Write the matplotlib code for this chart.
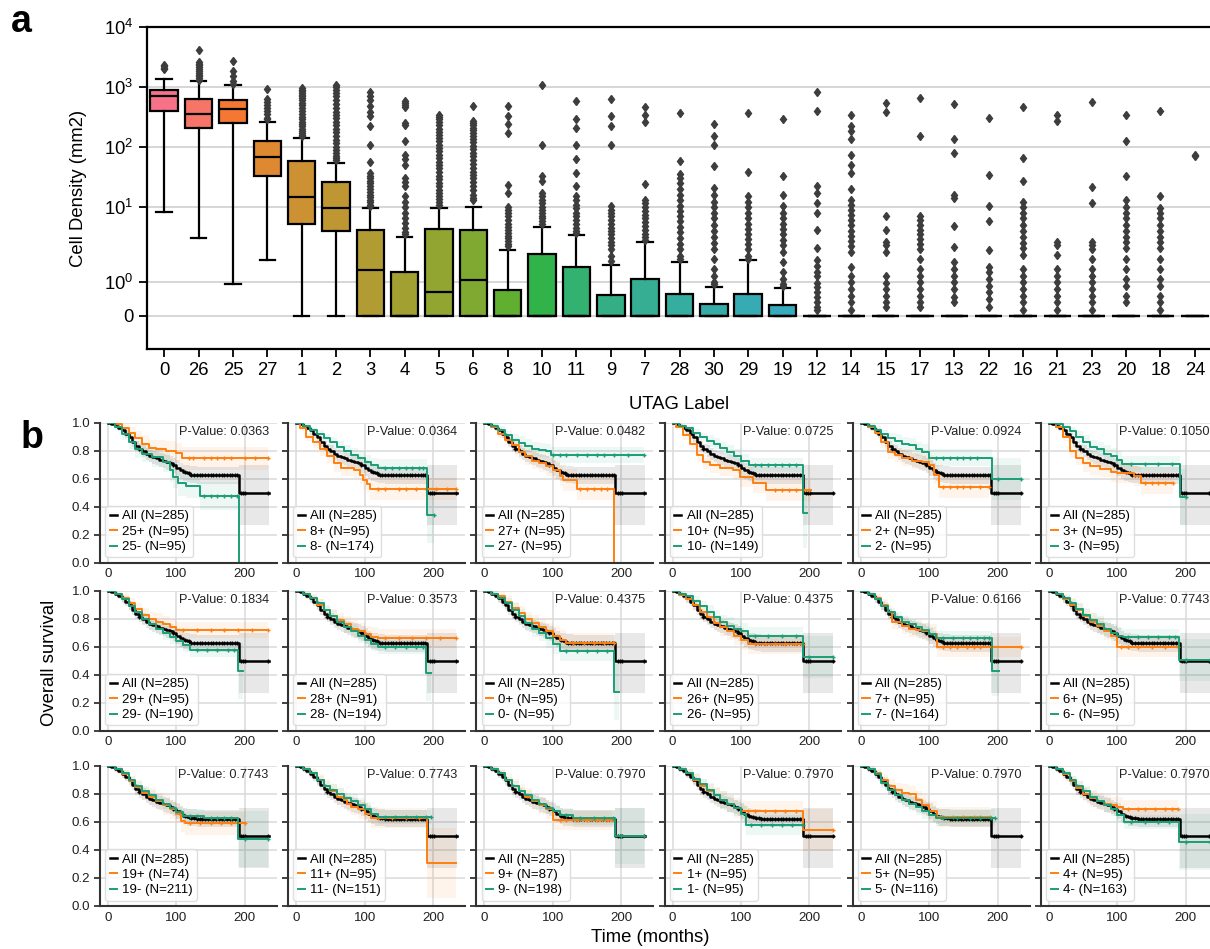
import numpy as np
import matplotlib
matplotlib.use("Agg")
import matplotlib.pyplot as plt
import seaborn as sns

plt.rcParams['font.family'] = ['Liberation Sans', 'DejaVu Sans']
plt.rcParams['mathtext.fontset'] = 'custom'
plt.rcParams['mathtext.rm'] = 'Liberation Sans'
plt.rcParams['mathtext.it'] = 'Liberation Sans:italic'

# ---------------- Panel a data ----------------
UTAG_ORDER = ['0', '26', '25', '27', '1', '2', '3', '4', '5', '6', '8', '10', '11', '9', '7',
              '28', '30', '29', '19', '12', '14', '15', '17', '13', '22', '16', '21', '23',
              '20', '18', '24']
BOX_Q1 = [405, 208, 252, 32.5, 5.15, 4.0, 0, 0, 0, 0, 0, 0, 0, 0, 0, 0, 0, 0, 0,
          0, 0, 0, 0, 0, 0, 0, 0, 0, 0, 0, 0]
BOX_MED = [720, 360, 432, 67, 14.7, 9.8, 1.38, 0, 0.71, 1.07, 0, 0, 0, 0, 0, 0, 0, 0, 0,
           0, 0, 0, 0, 0, 0, 0, 0, 0, 0, 0, 0]
BOX_Q3 = [906, 634, 600, 128, 59, 26.5, 4.1, 1.3, 4.3, 4.2, 0.78, 1.85, 1.45, 0.62, 1.10,
          0.66, 0.36, 0.66, 0.33, 0, 0, 0, 0, 0, 0, 0, 0, 0, 0, 0, 0]
WHISK_LO = [8.4, 3.1, 0.95, 1.67, 0, 0, 0, 0, 0, 0, 0, 0, 0, 0, 0, 0, 0, 0, 0,
            0, 0, 0, 0, 0, 0, 0, 0, 0, 0, 0, 0]
WHISK_HI = [1380, 1245, 1084, 262, 142, 54, 9.5, 3.2, 9.66, 10.2, 1.96, 4.59, 3.42, 1.52, 2.65,
            1.61, 0.86, 1.66, 0.83, 0, 0, 0, 0, 0, 0, 0, 0, 0, 0, 0, 0]
FLIERS = [
    [1960, 2100, 2250, 2350],
    [4200, 2600, 2450, 2300, 2150, 2000, 1850, 1700, 1600, 1500, 1400, 1300],
    [2680, 1830, 1550, 1250, 1140],
    [930, 620, 560, 500, 450, 400, 350, 310, 290],
    [966, 900, 850, 800, 750, 700, 650, 600, 550, 500, 450, 400, 360, 320, 290, 260, 240,
     220, 200, 185, 170, 160, 150],
    [1096, 1000, 900, 800, 700, 600, 520, 450, 390, 340, 300, 260, 230, 200, 175, 150, 130,
     115, 100, 90, 80, 72, 65, 60],
    [816, 700, 616, 476, 378, 333, 227, 110, 56.5, 37, 33, 30, 27, 25, 22, 20, 18, 16,
     14.5, 13, 12, 11, 10.3],
    [578, 540, 500, 460, 255, 232, 124, 75, 62, 51, 30, 26, 22, 15, 12, 10, 8, 6.5, 5.5,
     4.5, 3.8, 3.5],
    [347, 320, 290, 260, 230, 200, 180, 160, 140, 125, 110, 95, 85, 75, 65, 57, 50, 44, 38,
     33, 29, 25, 22, 19, 17, 15, 13.5, 12, 11],
    [490, 269, 250, 230, 210, 190, 170, 150, 135, 120, 105, 92, 80, 70, 60, 52, 45, 39, 34,
     30, 26, 22, 19, 16, 14, 13],
    [476, 330, 245, 172, 23.6, 17.2, 10, 9, 8, 7, 6, 5.3, 4.7, 4.2, 3.7, 3.3, 3.0, 2.7,
     2.4, 2.2],
    [1096, 110, 32.5, 26.9, 17, 15, 13, 11.5, 10, 9, 8, 7.2, 6.5, 5.8, 5.2],
    [578, 297, 208, 110, 63, 37, 22, 15.5, 13, 11, 9.5, 8, 7, 6, 5.2, 4.5, 4.0, 3.7],
    [641, 325, 227, 110, 10.3, 9, 8, 7, 6, 5.2, 4.5, 4.0, 3.5, 3.0, 2.6, 2.3, 2.0, 1.8, 1.65],
    [465, 347, 258, 24.3, 13.3, 11.5, 10, 8.7, 7.5, 6.5, 5.6, 4.8, 4.2, 3.6, 3.2, 2.8],
    [370, 57.8, 36, 30, 25, 20, 16, 13, 10.5, 8.5, 7, 5.8, 4.7, 3.8, 3.0, 2.4, 2.0, 1.8, 1.7],
    [243, 151, 110, 47.7, 20.8, 16.1, 12, 10, 8, 6.5, 5, 4, 3.2, 2.5, 2, 1.7, 1.4, 1.2, 1.0,
     0.95],
    [370, 37.9, 15, 12, 10, 8, 6.5, 5.3, 4.3, 3.5, 2.9, 2.4, 2.0, 1.8, 1.7],
    [297, 33.4, 16, 10.3, 8, 6.5, 5.3, 4.3, 3.5, 2.8, 2.3, 1.9, 1.6, 1.3, 1.1, 0.95, 0.9],
    [816, 394, 22, 17.2, 11.7, 8, 4.2, 2.08, 1.68, 1.5, 1.3, 1.18, 0.99, 0.85, 0.7, 0.55,
     0.4, 0.25, 0.18],
    [347, 222, 184, 135, 75, 51, 37, 20.3, 13.3, 11, 9, 7.5, 6, 5, 4, 3.3, 2.7, 2.2, 1.9,
     1.47, 1.2, 1.0, 0.8, 0.6, 0.4, 0.18],
    [543, 378, 7.0, 4.2, 2.65, 2.3, 1.9, 1.18, 0.99, 0.8, 0.6, 0.4, 0.27],
    [658, 155, 7, 6, 5, 4.2, 3.5, 2.9, 2.4, 2.0, 1.7, 1.4, 1.2, 1.0, 0.8, 0.6, 0.4, 0.27],
    [522, 136, 79.6, 16.1, 14.2, 4.8, 2.13, 1.6, 1.4, 1.2, 1.0, 0.8, 0.55, 0.4],
    [306, 34.7, 10.3, 5.8, 1.98, 1.47, 1.3, 1.1, 0.9, 0.7, 0.5, 0.27],
    [459, 65.8, 26.9, 12, 10, 8, 6.5, 5, 4, 3.2, 2.5, 2.1, 1.83, 1.4, 1.2, 1.0, 0.8, 0.6,
     0.4, 0.18],
    [338, 269, 2.65, 2.3, 1.83, 1.4, 1.2, 1.0, 0.8, 0.6, 0.4, 0.18],
    [562, 21.3, 11.7, 2.65, 2.3, 2.0, 1.7, 1.4, 1.2, 1.0, 0.8, 0.6, 0.4, 0.18],
    [338, 124, 32.5, 13.3, 10, 8, 6.5, 5, 4, 3.2, 2.6, 2.1, 1.7, 1.4, 1.1, 0.9, 0.6, 0.4],
    [405, 15.1, 9.6, 8, 6.5, 5, 4, 3.2, 2.6, 2.1, 1.7, 1.4, 1.1, 0.9, 0.6, 0.4, 0.18],
    [70, 75],
]
Y_TICKS_A = [0, 1, 10, 100, 1000, 10000]
Y_TICKLABELS_A = ['0', r'$10^0$', r'$10^1$', r'$10^2$', r'$10^3$', r'$10^4$']

# ---------------- Panel b data ----------------
PANEL_IDS = ['25', '8', '27', '10', '2', '3', '29', '28', '0', '26', '7', '6',
             '19', '11', '9', '1', '5', '4']
PVALUES = ['0.0363', '0.0364', '0.0482', '0.0725', '0.0924', '0.1050', '0.1834', '0.3573',
           '0.4375', '0.4375', '0.6166', '0.7743', '0.7743', '0.7743', '0.7970', '0.7970',
           '0.7970', '0.7970']
N_ALL = 285
N_POS = [95, 95, 95, 95, 95, 95, 95, 91, 95, 95, 95, 95, 74, 95, 87, 95, 95, 95]
N_NEG = [95, 174, 95, 149, 95, 95, 190, 194, 95, 95, 164, 95, 211, 151, 198, 95, 116, 163]

ALL_T = [0, 5, 10, 15, 20, 25, 30, 35, 40, 45, 50, 55, 60, 65, 70, 75, 80, 85, 90, 95, 100,
         105, 110, 115, 120, 130, 191, 235]
ALL_S = [1.0, 0.99, 0.98, 0.965, 0.945, 0.92, 0.9, 0.865, 0.835, 0.815, 0.80, 0.78, 0.765,
         0.755, 0.745, 0.737, 0.73, 0.72, 0.71, 0.695, 0.68, 0.66, 0.645, 0.638, 0.63, 0.625,
         0.5, 0.5]
ALL_LO = [1.0, 0.98, 0.96, 0.94, 0.915, 0.89, 0.865, 0.83, 0.795, 0.775, 0.755, 0.735, 0.72,
          0.705, 0.695, 0.685, 0.675, 0.665, 0.655, 0.64, 0.62, 0.6, 0.585, 0.575, 0.57, 0.565,
          0.27, 0.27]
ALL_HI = [1.0, 1.0, 0.99, 0.98, 0.965, 0.945, 0.925, 0.895, 0.87, 0.85, 0.84, 0.82, 0.805,
          0.795, 0.79, 0.785, 0.78, 0.77, 0.76, 0.745, 0.735, 0.715, 0.7, 0.695, 0.69, 0.685,
          0.70, 0.70]
ALL_CENS = [45, 95, 112, 118, 122, 126, 130, 134, 138, 142, 146, 150, 154, 158, 162, 166, 170,
            174, 178, 182, 186, 189, 195, 198, 201, 234]

# (time, survival, CI half-width) step points for the "+" (high) group
POS_KM = [
    [(0, 1, 0), (10, .99, .01), (20, .96, .03), (30, .93, .04), (40, .89, .05), (50, .85, .06),
     (60, .82, .06), (70, .81, .07), (85, .80, .07), (100, .785, .07), (108, .745, .08), (234, .745, .08)],
    [(0, 1, 0), (5, .96, .02), (15, .9, .03), (25, .86, .04), (35, .81, .05), (45, .76, .05),
     (55, .71, .06), (65, .68, .06), (85, .665, .06), (93, .63, .07), (98, .59, .07), (103, .565, .07),
     (108, .525, .08), (234, .525, .08)],
    [(0, 1, 0), (10, .97, .02), (20, .92, .03), (30, .88, .04), (40, .84, .05), (50, .79, .05),
     (60, .76, .06), (70, .73, .06), (80, .71, .06), (90, .69, .07), (100, .66, .07), (110, .62, .07),
     (115, .59, .08), (135, .53, .08), (190, 0.0, 0.0)],
    [(0, 1, 0), (5, .97, .02), (15, .91, .03), (25, .85, .04), (35, .77, .05), (45, .72, .05),
     (55, .7, .06), (70, .68, .06), (88, .66, .06), (98, .614, .07), (117, .57, .07), (137, .52, .08),
     (202, .52, .08)],
    [(0, 1, 0), (10, .97, .02), (20, .93, .03), (30, .86, .04), (40, .79, .05), (50, .77, .05),
     (60, .75, .06), (75, .73, .06), (90, .72, .06), (100, .7, .07), (107, .63, .07), (114, .54, .08),
     (187, .54, .08)],
    [(0, 1, 0), (10, .97, .02), (20, .9, .03), (30, .8, .05), (40, .75, .05), (50, .71, .06),
     (60, .69, .06), (75, .67, .06), (90, .65, .07), (100, .638, .07), (124, .62, .07), (134, .571, .08),
     (182, .571, .08)],
    [(0, 1, 0), (10, .98, .02), (20, .95, .03), (30, .91, .04), (40, .87, .04), (50, .83, .05),
     (60, .8, .05), (70, .78, .06), (80, .76, .06), (90, .74, .06), (100, .72, .06), (234, .72, .06)],
    [(0, 1, 0), (10, .98, .02), (20, .95, .03), (30, .9, .04), (40, .86, .04), (50, .82, .05),
     (60, .79, .05), (70, .76, .06), (80, .73, .06), (90, .71, .06), (100, .69, .06), (110, .67, .07),
     (120, .66, .07), (234, .66, .07)],
    [(0, 1, 0), (10, .98, .02), (20, .96, .03), (30, .92, .04), (40, .88, .04), (50, .84, .05),
     (60, .8, .05), (70, .77, .06), (80, .74, .06), (90, .71, .06), (100, .68, .07), (110, .65, .07),
     (120, .63, .07), (190, .63, .07)],
    [(0, 1, 0), (10, .97, .02), (20, .94, .03), (30, .9, .04), (40, .85, .05), (50, .81, .05),
     (60, .77, .06), (70, .74, .06), (80, .71, .06), (90, .68, .07), (100, .65, .07), (110, .62, .07),
     (190, .62, .07)],
    [(0, 1, 0), (10, .98, .02), (20, .95, .03), (30, .9, .04), (40, .85, .05), (45, .78, .05),
     (60, .75, .06), (70, .73, .06), (80, .72, .06), (90, .71, .06), (100, .69, .07), (112, .6, .07),
     (234, .6, .08)],
    [(0, 1, 0), (10, .98, .02), (20, .94, .03), (30, .9, .04), (40, .86, .05), (50, .82, .05),
     (60, .78, .06), (70, .75, .06), (80, .71, .06), (90, .68, .07), (100, .6, .07), (189, .6, .07)],
    [(0, 1, 0), (10, .98, .02), (20, .94, .03), (30, .89, .04), (40, .85, .05), (50, .81, .05),
     (60, .78, .06), (70, .75, .06), (80, .72, .07), (90, .69, .07), (100, .66, .07), (107, .61, .08),
     (112, .59, .08), (201, .59, .08)],
    [(0, 1, 0), (10, .98, .02), (20, .95, .03), (30, .9, .04), (40, .86, .05), (50, .82, .05),
     (60, .78, .06), (70, .76, .06), (75, .73, .06), (80, .71, .06), (90, .69, .07), (100, .66, .07),
     (110, .63, .07), (192, .31, .25), (234, .31, .25)],
    [(0, 1, 0), (10, .98, .02), (20, .95, .03), (30, .9, .04), (40, .86, .05), (50, .82, .05),
     (60, .78, .06), (70, .75, .06), (80, .72, .06), (90, .69, .07), (100, .615, .07), (187, .615, .07)],
    [(0, 1, 0), (10, .98, .02), (20, .95, .03), (30, .9, .04), (40, .86, .05), (50, .82, .05),
     (60, .79, .06), (70, .76, .06), (80, .73, .06), (90, .7, .07), (100, .68, .07), (191, .545, .15),
     (234, .545, .15)],
    [(0, 1, 0), (10, .98, .02), (20, .95, .03), (30, .9, .04), (40, .86, .05), (50, .83, .05),
     (60, .81, .06), (70, .8, .06), (80, .76, .06), (90, .72, .07), (100, .68, .07), (112, .634, .07),
     (189, .634, .07)],
    [(0, 1, 0), (10, .98, .02), (20, .94, .03), (30, .89, .04), (40, .84, .05), (50, .8, .05),
     (60, .77, .06), (70, .75, .06), (80, .73, .06), (90, .72, .06), (100, .71, .07), (108, .69, .07),
     (189, .69, .07)],
]
# (time, survival, CI half-width) step points for the "-" (low) group
NEG_KM = [
    [(0, 1, 0), (10, .97, .02), (20, .92, .04), (30, .86, .05), (40, .81, .06), (50, .78, .06),
     (65, .755, .07), (80, .72, .07), (90, .66, .08), (95, .615, .08), (102, .567, .09), (114, .55, .09),
     (135, .476, .1), (191, 0.0, 0.0)],
    [(0, 1, 0), (10, .98, .01), (20, .95, .02), (30, .92, .03), (40, .89, .03), (50, .86, .04),
     (60, .83, .04), (70, .8, .04), (80, .77, .05), (90, .75, .05), (100, .72, .05), (110, .7, .05),
     (120, .68, .06), (192, .34, .2), (202, .34, .2)],
    [(0, 1, 0), (10, .98, .02), (20, .95, .03), (30, .91, .03), (40, .88, .04), (50, .855, .05),
     (60, .835, .05), (70, .815, .05), (80, .805, .05), (90, .8, .05), (97, .77, .06), (233, .77, .06)],
    [(0, 1, 0), (10, .98, .01), (20, .96, .02), (30, .925, .03), (40, .9, .03), (50, .87, .04),
     (60, .85, .04), (70, .82, .04), (80, .79, .05), (90, .76, .05), (100, .73, .05), (112, .7, .05),
     (190, .353, .25), (196, .353, .25)],
    [(0, 1, 0), (10, .98, .02), (20, .95, .03), (30, .92, .03), (40, .89, .04), (50, .87, .05),
     (60, .85, .05), (70, .84, .05), (80, .81, .05), (90, .79, .06), (100, .75, .06), (192, .595, .15),
     (234, .595, .15)],
    [(0, 1, 0), (10, .99, .01), (20, .97, .02), (30, .94, .03), (40, .9, .04), (50, .86, .05),
     (60, .83, .05), (70, .81, .05), (80, .78, .06), (90, .76, .06), (100, .735, .06), (107, .705, .06),
     (192, .467, .2), (200, .467, .2)],
    [(0, 1, 0), (10, .98, .01), (20, .94, .02), (30, .89, .03), (40, .85, .03), (50, .8, .04),
     (60, .76, .04), (70, .73, .04), (80, .7, .05), (90, .67, .05), (100, .64, .05), (110, .61, .05),
     (120, .58, .05), (190, .43, .2), (197, .43, .2)],
    [(0, 1, 0), (10, .98, .01), (20, .95, .02), (30, .91, .03), (40, .86, .03), (50, .82, .04),
     (60, .78, .04), (70, .74, .04), (80, .71, .05), (90, .68, .05), (100, .65, .05), (110, .62, .05),
     (120, .6, .05), (190, .41, .2), (197, .41, .2)],
    [(0, 1, 0), (10, .98, .02), (20, .95, .03), (30, .91, .04), (40, .86, .05), (50, .82, .05),
     (60, .77, .06), (70, .73, .06), (80, .7, .06), (90, .66, .07), (100, .62, .07), (110, .57, .07),
     (190, .28, .2), (197, .28, .2)],
    [(0, 1, 0), (10, .98, .02), (20, .96, .03), (30, .93, .03), (40, .89, .04), (50, .85, .05),
     (60, .81, .05), (70, .78, .05), (80, .75, .06), (90, .73, .06), (100, .71, .06), (110, .68, .06),
     (191, .53, .15), (234, .53, .15)],
    [(0, 1, 0), (10, .98, .01), (20, .94, .02), (30, .89, .03), (40, .85, .03), (50, .81, .04),
     (60, .78, .04), (70, .76, .04), (80, .74, .05), (90, .72, .05), (100, .69, .05), (110, .665, .05),
     (192, .43, .18), (202, .43, .18)],
    [(0, 1, 0), (10, .98, .02), (20, .95, .03), (30, .91, .04), (40, .87, .04), (50, .83, .05),
     (60, .79, .05), (70, .76, .06), (80, .73, .06), (90, .7, .06), (100, .68, .06), (108, .67, .06),
     (190, .505, .15), (235, .505, .15)],
    [(0, 1, 0), (10, .98, .01), (20, .95, .02), (30, .9, .02), (40, .86, .03), (50, .82, .03),
     (60, .79, .04), (70, .76, .04), (80, .73, .04), (90, .7, .04), (100, .67, .04), (110, .64, .05),
     (140, .63, .05), (190, .476, .2), (234, .476, .2)],
    [(0, 1, 0), (10, .98, .01), (20, .95, .02), (30, .9, .03), (40, .86, .03), (50, .83, .04),
     (60, .8, .04), (70, .77, .04), (80, .75, .05), (90, .72, .05), (100, .69, .05), (110, .66, .05),
     (120, .635, .05), (197, .635, .05)],
    [(0, 1, 0), (10, .98, .01), (20, .95, .02), (30, .9, .02), (40, .86, .03), (50, .82, .03),
     (60, .79, .04), (70, .76, .04), (80, .73, .04), (90, .7, .04), (100, .68, .04), (110, .65, .05),
     (130, .63, .05), (191, .5, .2), (233, .5, .2)],
    [(0, 1, 0), (10, .98, .02), (20, .95, .03), (30, .91, .04), (40, .87, .04), (50, .83, .05),
     (60, .79, .05), (70, .76, .06), (80, .73, .06), (90, .7, .06), (100, .66, .07), (108, .58, .07),
     (190, .58, .08)],
    [(0, 1, 0), (10, .98, .02), (20, .94, .03), (30, .88, .04), (40, .83, .04), (50, .79, .05),
     (60, .76, .05), (70, .73, .05), (80, .71, .06), (90, .68, .06), (100, .65, .06), (110, .63, .06),
     (196, .63, .06)],
    [(0, 1, 0), (10, .98, .01), (20, .95, .02), (30, .9, .03), (40, .86, .03), (50, .82, .04),
     (60, .78, .04), (70, .75, .04), (80, .72, .05), (90, .69, .05), (100, .65, .05), (110, .6, .05),
     (190, .455, .2), (235, .455, .2)],
]
POS_CENS = [
    [118, 125, 140, 150, 160, 170, 180, 200, 215, 234],
    [120, 130, 150, 160, 175, 190, 205, 220, 234],
    [140, 150, 160, 170, 180],
    [150, 160, 170, 180, 190, 200],
    [120, 130, 140, 150, 160, 175, 187],
    [140, 150, 160, 170, 182],
    [110, 130, 150, 170, 190, 210, 234],
    [130, 150, 170, 190, 210, 234],
    [130, 145, 160, 175, 190],
    [120, 135, 150, 165, 180, 190],
    [120, 130, 140, 155, 165, 175, 190, 234],
    [105, 115, 130, 150, 170, 189],
    [120, 135, 150, 165, 180, 201],
    [120, 140, 160, 180],
    [110, 120, 135, 150, 165, 180, 187],
    [110, 120, 135, 150, 165, 180, 234],
    [120, 135, 150, 165, 175, 189],
    [115, 130, 140, 155, 170, 180, 189],
]
NEG_CENS = [
    [140, 150, 160, 170, 180, 188],
    [130, 140, 150, 160, 170, 180, 185, 202],
    [100, 110, 120, 135, 150, 165, 175, 190, 210, 233],
    [120, 130, 140, 150, 160, 170, 180],
    [110, 120, 130, 140, 150, 160, 170, 200, 234],
    [120, 140, 160, 180, 200],
    [130, 145, 160, 175, 185],
    [130, 145, 160, 175, 185],
    [120, 135, 150, 165, 180],
    [120, 140, 160, 180, 200, 234],
    [120, 135, 150, 160, 170, 180, 188],
    [115, 130, 145, 160, 175, 185, 200, 235],
    [120, 130, 150, 160, 170, 180, 200, 234],
    [130, 145, 160, 175, 190, 197],
    [120, 140, 160, 175, 188, 200, 233],
    [115, 130, 145, 160, 175, 190],
    [120, 140, 160, 175, 190, 196],
    [120, 140, 160, 175, 200, 235],
]

ORANGE = '#ff7f0e'
GREEN = '#1b9e77'
W, H = 1210, 949

fig = plt.figure(figsize=(W / 100, H / 100), dpi=100)


def px_axes(left, top, width, height):
    return fig.add_axes([left / W, 1 - (top + height) / H, width / W, height / H])


# ---------------- Panel a ----------------
axa = px_axes(147, 27, 1065, 322)
colors = sns.color_palette('husl', len(UTAG_ORDER))
stats = []
for i, lab in enumerate(UTAG_ORDER):
    stats.append(dict(label=lab, med=BOX_MED[i], q1=BOX_Q1[i], q3=BOX_Q3[i],
                      whislo=WHISK_LO[i], whishi=WHISK_HI[i], fliers=np.array(FLIERS[i])))
bp = axa.bxp(stats, positions=np.arange(len(UTAG_ORDER)), widths=0.8, patch_artist=True,
             showfliers=True, capwidths=0.45,
             boxprops=dict(edgecolor='black', linewidth=1.6),
             medianprops=dict(color='black', linewidth=1.6),
             whiskerprops=dict(color='black', linewidth=1.6),
             capprops=dict(color='black', linewidth=1.6),
             flierprops=dict(marker='d', markersize=4.5, markerfacecolor='#3d3d3d',
                             markeredgecolor='#3d3d3d', linestyle='none'))
for patch, col in zip(bp['boxes'], colors):
    patch.set_facecolor(col)
axa.set_yscale('symlog', linthresh=2, linscale=1)
axa.set_ylim(-1, 1e4)
axa.set_xlim(-0.5, len(UTAG_ORDER) - 0.5)
axa.set_yticks(Y_TICKS_A)
axa.set_yticklabels(Y_TICKLABELS_A)
axa.yaxis.set_minor_locator(matplotlib.ticker.NullLocator())
axa.set_xticks(np.arange(len(UTAG_ORDER)))
axa.set_xticklabels(UTAG_ORDER)
axa.tick_params(axis='both', labelsize=13.3, length=6, width=1.3, color='black')
axa.yaxis.grid(True, color='#d0d0d0', linewidth=1.2)
axa.set_axisbelow(True)
for side in ['left', 'bottom', 'top']:
    axa.spines[side].set_linewidth(1.6)
    axa.spines[side].set_color('black')
axa.spines['right'].set_visible(False)
axa.set_xlabel('UTAG Label', fontsize=13.3)
axa.set_ylabel('Cell Density (mm2)', fontsize=13.3)
axa.xaxis.set_label_coords(0.5, -0.145)
axa.yaxis.set_label_coords(-0.056, 0.5)

# ---------------- Panel b ----------------
ROW_TOP = [422.7, 590.7, 766]
COL_STEP = 188.2


def draw_curve(ax, rows, cens, color, label, lw):
    t = np.array([r[0] for r in rows], dtype=float)
    s = np.array([r[1] for r in rows], dtype=float)
    hw = np.array([r[2] for r in rows], dtype=float)
    ax.fill_between(t, np.clip(s - hw, 0, 1), np.clip(s + hw, 0, 1), step='post',
                    color=color, alpha=0.08, linewidth=0)
    line, = ax.step(t, s, where='post', color=color, linewidth=lw, label=label)
    c = np.array(cens, dtype=float)
    idx = np.searchsorted(t, c, side='right') - 1
    ax.plot(c, s[idx], linestyle='none', marker='+', markersize=3.5, markeredgewidth=1.0,
            color=color)
    return line


for k, pid in enumerate(PANEL_IDS):
    r, c = divmod(k, 6)
    ax = px_axes(100 + COL_STEP * c, ROW_TOP[r], 176.7, 140)
    # All
    ax.fill_between(ALL_T, ALL_LO, ALL_HI, step='post', color='black', alpha=0.09, linewidth=0)
    h_all, = ax.step(ALL_T, ALL_S, where='post', color='black', linewidth=1.8,
                     label=f'All (N={N_ALL})')
    ta = np.array(ALL_T, dtype=float)
    ca = np.array(ALL_CENS, dtype=float)
    ia = np.searchsorted(ta, ca, side='right') - 1
    ax.plot(ca, np.array(ALL_S)[ia], linestyle='none', marker='+', markersize=3.5,
            markeredgewidth=1.0, color='black')
    h_pos = draw_curve(ax, POS_KM[k], POS_CENS[k], ORANGE, f'{pid}+ (N={N_POS[k]})', 1.4)
    h_neg = draw_curve(ax, NEG_KM[k], NEG_CENS[k], GREEN, f'{pid}- (N={N_NEG[k]})', 1.4)

    ax.set_xlim(-11.75, 246.75)
    ax.set_ylim(0, 1)
    ax.set_xticks([0, 100, 200])
    ax.set_yticks([0, 0.2, 0.4, 0.6, 0.8, 1.0])
    if c == 0:
        ax.set_yticklabels(['0.0', '0.2', '0.4', '0.6', '0.8', '1.0'])
    else:
        ax.set_yticklabels([])
    ax.tick_params(axis='both', labelsize=9.6, colors='#222222')
    ax.tick_params(axis='x', length=0, pad=4)
    ax.tick_params(axis='y', length=4, width=1.2, pad=3)
    ax.grid(True, color='#dadada', linewidth=1.1)
    ax.set_axisbelow(True)
    ax.spines['top'].set_visible(False)
    ax.spines['right'].set_visible(False)
    for side in ['left', 'bottom']:
        ax.spines[side].set_linewidth(1.5)
        ax.spines[side].set_color('#333333')
    ax.text(0.955, 0.975, f'P-Value: {PVALUES[k]}', transform=ax.transAxes, ha='right',
            va='top', fontsize=9.2, color='#222222')
    ax.legend(handles=[h_all, h_pos, h_neg], loc='lower left', fontsize=9.5,
              handlelength=0.55, handletextpad=0.4, labelspacing=0.24, borderpad=0.32,
              borderaxespad=0.4, frameon=True, framealpha=0.8, edgecolor='#d8d8d8')

fig.text(50 / W, 1 - 663 / H, 'Overall survival', rotation=90, ha='center', va='center',
         fontsize=13.3)
fig.text(650 / W, 1 - 937 / H, 'Time (months)', ha='center', va='center', fontsize=13.3)
fig.text(11 / W, 1 - 32 / H, 'a', fontsize=27, fontweight='bold', ha='left', va='baseline')
fig.text(21 / W, 1 - 448 / H, 'b', fontsize=27, fontweight='bold', ha='left', va='baseline')

fig.savefig('out.png', dpi=100)
